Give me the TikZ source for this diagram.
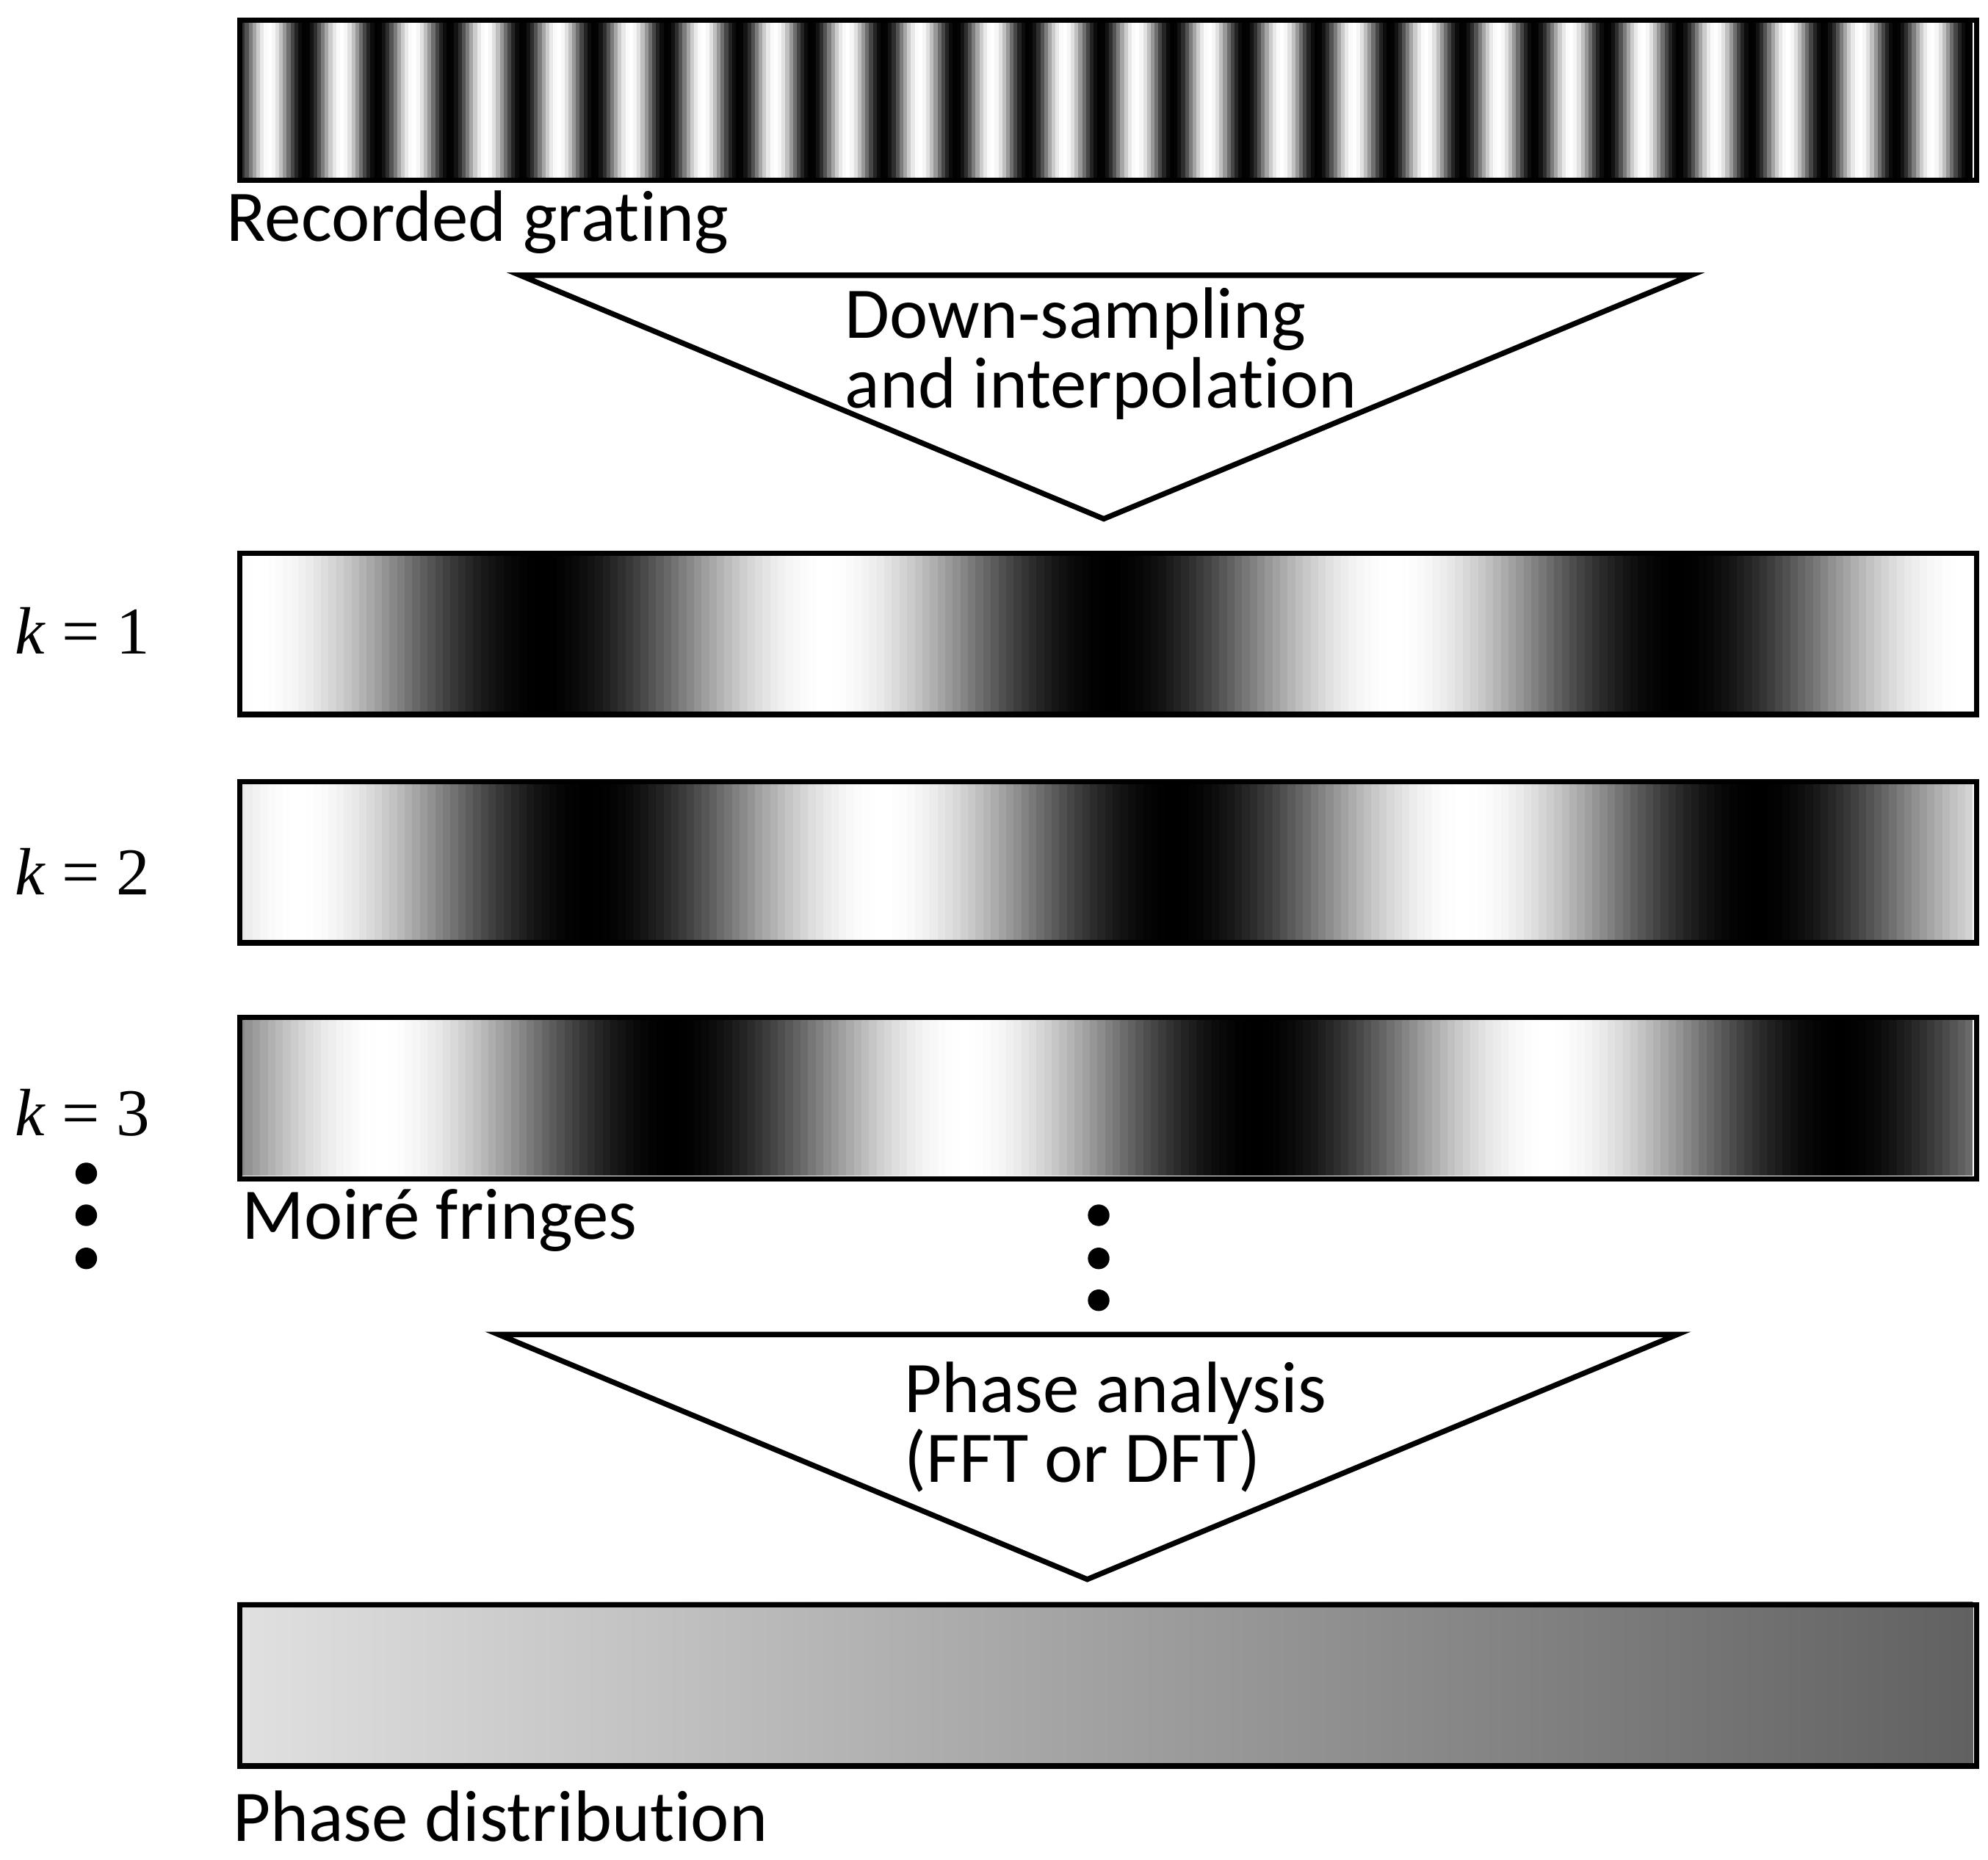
\documentclass[tikz,border=0pt]{standalone}
\usepackage{fontspec}
\setmainfont{Carlito}[Ligatures=NoCommon]
\newfontfamily\kfont{Liberation Serif}
\begin{document}
\begin{tikzpicture}[x=0.01cm,y=-0.01cm,
  lbl/.style={font=\fontsize{16.3}{15.6}\selectfont,inner sep=0pt},
  klbl/.style={font=\kfont\fontsize{15}{18}\selectfont,inner sep=0pt},
  frame/.style={draw=black,line width=1.2pt},
  tri/.style={draw=black,line width=1.2pt,fill=white},
  dot/.style={circle,fill=black,inner sep=0pt,minimum size=0.17cm}]
\useasboundingbox (0,0) rectangle (1567,1466);
% grating
\foreach \xx in {187,190,...,1553}{%
  \pgfmathsetmacro\g{50-50*cos(((\xx+1.5-212)/57)*360)}%
  \fill[black!\g] (\xx,14) rectangle ({min(\xx+3.8,1555)},140);}
\node[frame,minimum width=13.68cm,minimum height=1.26cm,anchor=north west] (grating) at (187,14) {};
\node[lbl,anchor=west] (rg) at (178,175) {Recorded grating};
% triangle 1
\draw[tri] (410,217) coordinate (t1a) -- (1333,217) coordinate (t1b) -- (870,409) coordinate (t1c) -- cycle;
\node[lbl,align=left,anchor=north] (ds) at (868,226) {Down-sampling\\and interpolation};
% moire k=1
\foreach \xx in {187,193,...,1553}{%
  \pgfmathsetmacro\g{50-50*cos(((\xx+3-203)/448)*360)}%
  \fill[black!\g] (\xx,434) rectangle ({min(\xx+6.8,1555)},561);}
\node[frame,minimum width=13.68cm,minimum height=1.27cm,anchor=north west] (m1) at (187,434) {};
% k=2
\foreach \xx in {187,193,...,1553}{%
  \pgfmathsetmacro\g{50-50*cos(((\xx+3-235)/460)*360)}%
  \fill[black!\g] (\xx,614) rectangle ({min(\xx+6.8,1555)},741);}
\node[frame,minimum width=13.68cm,minimum height=1.27cm,anchor=north west] (m2) at (187,614) {};
% k=3
\foreach \xx in {187,193,...,1553}{%
  \pgfmathsetmacro\g{50-50*cos(((\xx+3-300)/460)*360)}%
  \fill[black!\g] (\xx,800) rectangle ({min(\xx+6.8,1555)},927);}
\node[frame,minimum width=13.68cm,minimum height=1.27cm,anchor=north west] (m3) at (187,800) {};
\node[klbl] (k1) at (65,497) {\textit{k} = 1};
\node[klbl] (k2) at (65,687) {\textit{k} = 2};
\node[klbl] (k3) at (65,877) {\textit{k} = 3};
\node[dot] (d1) at (68,925) {};
\node[dot] (d2) at (68,958) {};
\node[dot] (d3) at (68,992) {};
\node[lbl,anchor=west] (mf) at (190,962) {Moiré fringes};
\node[dot] (e1) at (866,958) {};
\node[dot] (e2) at (866,992) {};
\node[dot] (e3) at (866,1025) {};
% triangle 2
\draw[tri] (393,1052) coordinate (t2a) -- (1322,1052) coordinate (t2b) -- (857,1245) coordinate (t2c) -- cycle;
\node[lbl,align=left,anchor=north west] (pa) at (712,1073) {Phase analysis\\(FFT or DFT)};
% phase distribution
\shade[left color=black!12,right color=black!62] (187,1263) rectangle (1555,1390);
\node[frame,minimum width=13.68cm,minimum height=1.27cm,anchor=north west] (pd) at (187,1263) {};
\node[lbl,anchor=west] (pdl) at (183,1432) {Phase distribution};
\end{tikzpicture}
\end{document}
